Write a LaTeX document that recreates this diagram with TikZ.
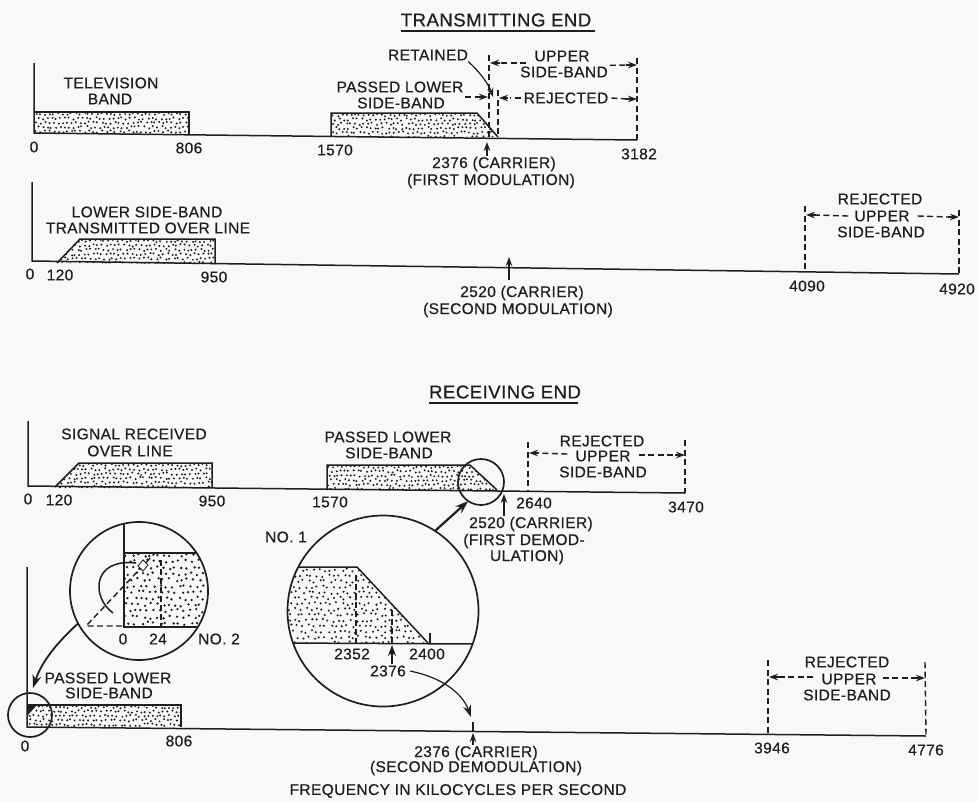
\documentclass[tikz,border=0pt]{standalone}
\usepackage{fontspec}
\setmainfont{Liberation Sans}[LetterSpace=2.5,RawFeature={embolden=0.5}]
\usetikzlibrary{arrows.meta}
\definecolor{paper}{HTML}{F8F8F8}
\definecolor{ink}{HTML}{1E1E1E}
\newcommand{\stipple}[7]{% x0 y0 x1 y1 step radius seed
  \pgfmathsetseed{#7}%
  \pgfmathsetmacro{\nxa}{int((#3-#1)/#5)}%
  \pgfmathsetmacro{\nya}{int((#4-#2)/#5)}%
  \foreach \ix in {0,...,\nxa}{\foreach \iy in {0,...,\nya}{%
    \pgfmathsetmacro{\jx}{#1+\ix*#5+mod(\iy,2)*#5/2+rand*#5*0.28}%
    \pgfmathsetmacro{\jy}{#2+\iy*#5+rand*#5*0.28}%
    \fill[ink] (\jx,\jy) circle[radius=#6];}}}
\tikzset{
  every node/.style={text=ink},
  lbl/.style={font=\fontsize{15.5}{17}\selectfont,inner sep=0pt},
  ttl/.style={font=\fontsize{18.6}{20}\selectfont,inner sep=0pt},
  ln/.style={draw=ink,line width=1.5pt},
  thin ln/.style={draw=ink,line width=1.2pt},
  dash ln/.style={draw=ink,line width=1.4pt,dash pattern=on 6pt off 3.5pt},
  loupe dash/.style={draw=ink,line width=1.1pt,dash pattern=on 6pt off 3pt},
  tip/.style={-{Stealth[length=9pt,width=6.5pt]}},
  big tip/.style={-{Stealth[length=13pt,width=9pt]}},
  dimtip/.style={-{Stealth[length=9pt,width=6.5pt]},line width=1.4pt,draw=ink},
  loupe/.style={circle,draw=ink,line width=1.7pt,inner sep=0pt,outer sep=0pt},
}
\begin{document}
\begin{tikzpicture}[x=1pt,y=-1pt]
\useasboundingbox (0,0) rectangle (977,801);
\fill[paper] (0,0) rectangle (977,801);

%% ---------- TRANSMITTING END ----------
\node[ttl] (t1) at (496,20) {TRANSMITTING END};
\draw[ln] (t1.south west)++(0,4) -- ++(194,0);
\coordinate (a1t) at (34,63); \coordinate (a1o) at (34,133);
\coordinate (a1e) at (637,140);
\begin{scope}\clip (34,112) -- (189,112) -- (189,135) -- (34,134) -- cycle; \stipple{36}{114}{189}{135}{4.4}{1.1}{11}\end{scope}
\begin{scope}\clip (331,113) -- (477,113) -- (498,137) -- (331,137) -- cycle; \stipple{333}{115}{498}{137}{4.4}{1.1}{12}\end{scope}
\draw[ln] (a1t) -- (a1o) -- (a1e);
\draw[ln] (34,112) -- (189,112) -- (189,135);
\draw[ln] (331,137) -- (331,113) -- (477,113) -- (498,137);
\coordinate (d1a) at (489,55); \coordinate (d1ab) at (489,137);
\coordinate (d1b) at (498,90); \coordinate (d1bb) at (498,137);
\coordinate (d1c) at (637,58);
\draw[dash ln] (d1a) -- (d1ab);
\draw[dash ln] (d1b) -- (d1bb);
\draw[dash ln] (d1c) -- (a1e);
\node[lbl] (tvA) at (111,83) {TELEVISION};
\node[lbl] (tvB) at (110,99) {BAND};
\node[lbl] (n1a) at (34,147) {0};
\node[lbl] (n1b) at (189,148) {806};
\node[lbl] (n1c) at (335,150) {1570};
\node[lbl] (n1d) at (639,154) {3182};
\node[lbl] (ret) at (428,55) {RETAINED};
\node[lbl] (plA) at (400,87) {PASSED LOWER};
\node[lbl] (plB) at (401,103) {SIDE-BAND};
\node[lbl] (upA) at (562,56) {UPPER};
\node[lbl] (upB) at (564,72) {SIDE-BAND};
\node[lbl] (rej) at (566,98) {REJECTED};
\node[lbl] (car1) at (494,164) {2376 (CARRIER)};
\node[lbl] (mod1) at (491,181) {(FIRST MODULATION)};
\draw[dash ln] (upA.west)++(-8,7) -- (498,63);
\draw[dimtip] (500,63) -- (490,63);
\draw[dash ln] (upB.north east)++(2,-1) -- (627,65);
\draw[dimtip] (626,65) -- (637,65);
\draw[dash ln] (rej.west)++(-3,0) -- (510,98);
\draw[dimtip] (508,98) -- (499,98);
\draw[dash ln] (rej.east)++(3,0) -- (627,99);
\draw[dimtip] (626,99) -- (637,99);
\draw[dash ln] (465,97) -- (478,97);
\draw[dimtip] (477,97) -- (488,97);
\draw[tip,thin ln] (ret.south east)++(0,1) .. controls (480,72) and (489,85) .. (493,97);
\draw[tip,thin ln] (car1.north)++(-7,-1) -- (487,142);

%% ---------- panel 2 ----------
\coordinate (a2t) at (32,182); \coordinate (a2o) at (32,261);
\coordinate (a2e) at (959,274);
\begin{scope}\clip (57,263) -- (80,239) -- (215,239) -- (215,264) -- cycle; \stipple{60}{241}{215}{264}{4.4}{1.1}{13}\end{scope}
\draw[ln] (a2t) -- (a2o) -- (a2e);
\draw[ln] (57,263) -- (80,239) -- (215,239) -- (215,264);
\coordinate (d2a) at (805,206); \coordinate (d2ab) at (805,270);
\coordinate (d2b) at (959,210);
\draw[dash ln] (d2a) -- (d2ab);
\draw[dash ln] (d2b) -- (a2e);
\node[lbl] (lsA) at (147,212) {LOWER SIDE-BAND};
\node[lbl] (lsB) at (148,228) {TRANSMITTED OVER LINE};
\node[lbl] (n2a) at (30,274) {0};
\node[lbl] (n2b) at (60,275) {120};
\node[lbl] (n2c) at (214,277) {950};
\node[lbl] (n2d) at (807,286) {4090};
\node[lbl] (n2e) at (957,289) {4920};
\node[lbl] (car2) at (522,293) {2520 (CARRIER)};
\node[lbl] (mod2) at (518,310) {(SECOND MODULATION)};
\node[lbl] (rjA) at (880,199) {REJECTED};
\node[lbl] (rjB) at (882,216) {UPPER};
\node[lbl] (rjC) at (881,232) {SIDE-BAND};
\draw[dash ln] (rjB.west)++(-6,0) -- (815,215);
\draw[dimtip] (816,215) -- (806,215);
\draw[dash ln] (rjB.east)++(8,0) -- (948,217);
\draw[dimtip] (948,217) -- (959,217);
\coordinate (ar2b) at (509,280);
\draw[tip,thin ln] (ar2b) -- (509,257);

%% ---------- RECEIVING END ----------
\node[ttl] (t2) at (505,392) {RECEIVING END};
\draw[ln] (t2.south west)++(0,4) -- ++(149,0);
\coordinate (a3t) at (28,421); \coordinate (a3o) at (28,486);
\coordinate (a3e) at (685,493);
\begin{scope}\clip (55,486) -- (79,463) -- (212,463) -- (212,488) -- (55,488) -- cycle; \stipple{58}{465}{212}{488}{4.4}{1.1}{14}\end{scope}
\begin{scope}\clip (327,465) -- (470,465) -- (497,490) -- (327,490) -- cycle; \stipple{329}{467}{497}{490}{4.4}{1.1}{15}\end{scope}
\draw[ln] (a3t) -- (a3o) -- (a3e);
\draw[ln] (55,487) -- (79,463) -- (212,463) -- (212,488);
\draw[ln] (327,490) -- (327,465) -- (470,465) -- (497,490);
\node[loupe,minimum size=46pt] (c3) at (481,482) {};
\coordinate (d3a) at (528,442); \coordinate (d3ab) at (528,491);
\coordinate (d3b) at (685,440);
\draw[dash ln] (d3a) -- (d3ab);
\draw[dash ln] (d3b) -- (a3e);
\node[lbl] (srA) at (134,434) {SIGNAL RECEIVED};
\node[lbl] (srB) at (130,451) {OVER LINE};
\node[lbl] (n3a) at (28,499) {0};
\node[lbl] (n3b) at (59,500) {120};
\node[lbl] (n3c) at (212,501) {950};
\node[lbl] (n3d) at (330,502) {1570};
\node[lbl] (n3e) at (534,503) {2640};
\node[lbl] (n3f) at (686,507) {3470};
\node[lbl] (plC) at (388,437) {PASSED LOWER};
\node[lbl] (plD) at (389,453) {SIDE-BAND};
\node[lbl] (rkA) at (602,441) {REJECTED};
\node[lbl] (rkB) at (603,456) {UPPER};
\node[lbl] (rkC) at (603,472) {SIDE-BAND};
\draw[dash ln] (rkB.west)++(-8,-2) -- (536,453);
\draw[dimtip] (538,453) -- (529,453);
\draw[dash ln] (rkB.east)++(8,-1) -- (674,455);
\draw[dimtip] (675,455) -- (685,455);
\node[lbl] (car3) at (531,524) {2520 (CARRIER)};
\node[lbl] (mod3a) at (524,541) {(FIRST DEMOD-};
\node[lbl] (mod3b) at (527,557) {ULATION)};
\coordinate (ar3b) at (504,516);
\draw[tip,thin ln] (ar3b) -- (504,494);

%% ---------- loupe No. 1 ----------
\node[loupe,minimum size=191pt] (c1) at (383,611) {};
\begin{scope}
  \clip (383,611) circle[radius=95];
  \clip (280,567) -- (357,567) -- (428,643) -- (280,643) -- cycle;
  \stipple{286}{570}{428}{643}{5.6}{1.15}{16}
\end{scope}
\begin{scope}
  \clip (383,611) circle[radius=95];
  \draw[ln] (280,567) -- (357,567) -- (428,643);
  \draw[ln] (280,643) -- (480,644);
\end{scope}
\draw[loupe dash] (356,575) -- (356,643);
\draw[loupe dash] (392,610) -- (392,643);
\draw[thin ln] (430,633) -- (430,643);
\node[lbl] (no1) at (286,537) {NO. 1};
\node[lbl] (n4a) at (352,654) {2352};
\node[lbl] (n4b) at (427,654) {2400};
\node[lbl] (n4c) at (388,671) {2376};
\draw[-{Stealth[length=11pt,width=8pt]},thin ln] (n4c.north)++(4,-1) -- (392,645);
\draw[big tip,line width=2.2pt,draw=ink] (c1.57) -- (c3.236);

%% ---------- panel 4 ----------
\coordinate (a4t) at (27,567); \coordinate (a4o) at (27,727);
\coordinate (a4e) at (926,736);
\begin{scope}\clip (27,705) rectangle (181,727); \stipple{29}{707}{181}{727}{4.4}{1.1}{17}\end{scope}
\draw[ln] (a4t) -- (a4o) -- (a4e);
\draw[ln] (27,705) -- (181,705) -- (181,727);
\fill[ink] (27,705) -- (37,705) -- (27,716) -- cycle;
\node[loupe,minimum size=44pt] (c4) at (30,715) {};
\coordinate (d4a) at (768,660); \coordinate (d4ab) at (768,733);
\coordinate (d4b) at (925,662);
\draw[dash ln] (d4a) -- (d4ab);
\draw[dash ln] (d4b) -- (a4e);
\node[lbl] (pmA) at (108,678) {PASSED LOWER};
\node[lbl] (pmB) at (109,693) {SIDE-BAND};
\node[lbl] (n5a) at (25,746) {0};
\node[lbl] (n5b) at (179,741) {806};
\node[lbl] (n5c) at (772,748) {3946};
\node[lbl] (n5d) at (926,750) {4776};
\node[lbl] (rmA) at (847,662) {REJECTED};
\node[lbl] (rmB) at (849,679) {UPPER};
\node[lbl] (rmC) at (847,695) {SIDE-BAND};
\draw[dash ln] (rmB.west)++(-8,-2) -- (778,677);
\draw[dimtip] (779,677) -- (769,677);
\draw[dash ln] (rmB.east)++(6,-1) -- (914,678);
\draw[dimtip] (914,678) -- (925,678);
\node[lbl] (car4) at (476,753) {2376 (CARRIER)};
\node[lbl] (mod4) at (476,768) {(SECOND DEMODULATION)};
\node[lbl] (frq) at (458,791) {FREQUENCY IN KILOCYCLES PER SECOND};
\coordinate (m4) at (473,722);
\draw[thin ln] (m4) -- (473,732);
\draw[tip,thin ln] (473,745) -- (473,733);
\draw[-{Stealth[length=12pt,width=8pt]},thin ln] (n4c.east)++(4,0) .. controls (440,677) and (462,692) .. (471,717);

%% ---------- loupe No. 2 ----------
\node[loupe,minimum size=138pt] (c2) at (139,591) {};
\begin{scope}
  \clip (139,591) circle[radius=69];
  \clip (124,553) rectangle (210,627);
  \stipple{126}{555}{210}{627}{6.2}{1.3}{18}
\end{scope}
\begin{scope}
  \clip (139,591) circle[radius=69];
  \draw[ln] (124,520) -- (124,627) -- (210,627);
  \draw[ln] (124,553) -- (210,553);
\end{scope}
\draw[loupe dash] (161,560) -- (161,627);
\draw[dash ln] (122,626) -- (86,626) -- (155,553);
\fill[paper,draw=ink,line width=.8pt] (138,566) -- (143,560) -- (148,565) -- (143,571) -- cycle;
\draw[ln] (113,613) .. controls (91,597) and (92,558) .. (136,563);
\node[lbl] (n6a) at (123,639) {0};
\node[lbl] (n6b) at (158,639) {24};
\node[lbl] (no2) at (219,639) {NO. 2};
\draw[big tip,line width=1.8pt,draw=ink] (c2.208) .. controls (60,640) and (42,660) .. (33,688);
\end{tikzpicture}
\end{document}
